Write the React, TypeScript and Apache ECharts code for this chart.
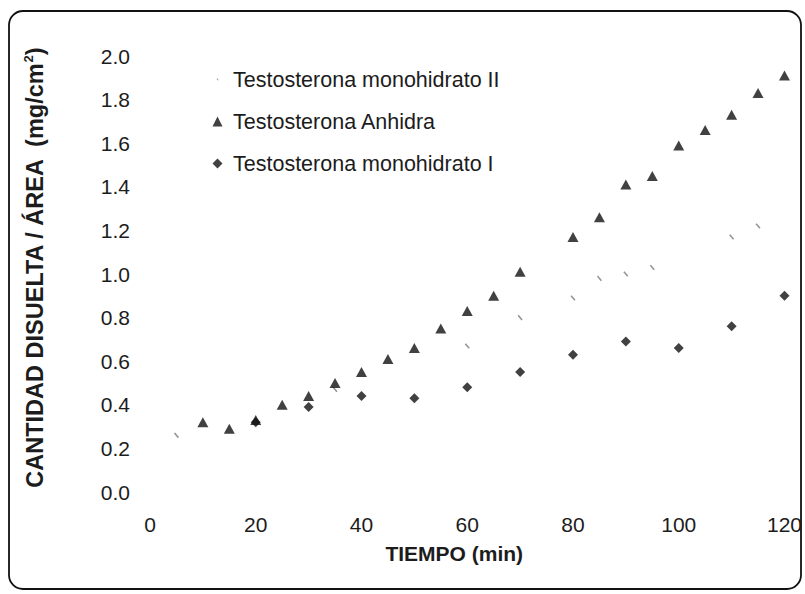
import React, { useEffect, useRef } from "react";
import * as echarts from "echarts";

// Testosterona monohidrato II (faint marks)
const mono2Time = [5, 35, 60, 70, 80, 85, 90, 95, 110, 115];
const mono2Value = [0.26, 0.47, 0.67, 0.8, 0.89, 0.98, 1.0, 1.03, 1.17, 1.22];

// Testosterona Anhidra (triangles)
const anhTime = [10, 15, 20, 25, 30, 35, 40, 45, 50, 55, 60, 65, 70, 80, 85, 90, 95, 100, 105, 110, 115, 120];
const anhValue = [0.32, 0.29, 0.33, 0.4, 0.44, 0.5, 0.55, 0.61, 0.66, 0.75, 0.83, 0.9, 1.01, 1.17, 1.26, 1.41, 1.45, 1.59, 1.66, 1.73, 1.83, 1.91];

// Testosterona monohidrato I (diamonds)
const mono1Time = [20, 30, 40, 50, 60, 70, 80, 90, 100, 110, 120];
const mono1Value = [0.32, 0.39, 0.44, 0.43, 0.48, 0.55, 0.63, 0.69, 0.66, 0.76, 0.9];

const seriesNames = [
  "Testosterona monohidrato II",
  "Testosterona Anhidra",
  "Testosterona monohidrato I",
];

const zip = (xs: number[], ys: number[]) => xs.map((x, i) => [x, ys[i]]);

const FONT = "'Liberation Sans', Arial, sans-serif";
const TEXT = "#1c1c1c";

export default function App() {
  const ref = useRef<HTMLDivElement>(null);

  useEffect(() => {
    document.body.style.margin = "0";
    if (!ref.current) return;
    const chart = echarts.init(ref.current, undefined, { renderer: "svg" });
    chart.setOption({
      animation: false,
      backgroundColor: "#ffffff",
      textStyle: { fontFamily: FONT },
      graphic: [
        {
          type: "rect",
          shape: { x: 9, y: 11, width: 792, height: 578, r: 14 },
          style: { fill: "none", stroke: "#111", lineWidth: 1.8 },
          silent: true,
        },
      ],
      grid: { left: 150, right: 19, top: 56, bottom: 102 },
      legend: {
        orient: "vertical",
        left: 207,
        top: 62,
        itemGap: 17,
        itemWidth: 16,
        itemHeight: 11,
        textStyle: { fontSize: 21.5, color: TEXT, fontFamily: FONT, lineHeight: 25 },
        data: [
          { name: seriesNames[0], icon: "path://M0,0 M16,11 M4.5,4.6 L5.4,4.2 L6.6,6.2 L5.7,6.6 Z" },
          { name: seriesNames[1], icon: "path://M0,0 M16,11 M0.5,10.5 L5.5,0.5 L10.5,10.5 Z" },
          { name: seriesNames[2], icon: "path://M0,0 M16,11 M5.5,0.5 L10.5,5.5 L5.5,10.5 L0.5,5.5 Z" },
        ],
      },
      xAxis: {
        type: "value",
        min: 0,
        max: 120,
        interval: 20,
        name: "TIEMPO (min)",
        nameLocation: "middle",
        nameGap: 51,
        nameTextStyle: {
          fontSize: 21,
          fontWeight: "bold",
          color: TEXT,
          fontFamily: FONT,
          padding: [0, 26, 0, 0],
        },
        axisLine: { show: false },
        axisTick: { show: false },
        splitLine: { show: false },
        axisLabel: { fontSize: 21, color: TEXT, margin: 22, fontFamily: FONT },
      },
      yAxis: {
        type: "value",
        min: 0,
        max: 2,
        interval: 0.2,
        name: "CANTIDAD DISUELTA / ÁREA  (mg/cm{sup|2})",
        nameLocation: "middle",
        nameGap: 103,
        nameTextStyle: {
          fontSize: 23.5,
          fontWeight: "bold",
          color: TEXT,
          fontFamily: FONT,
          padding: [0, 0, 0, 12],
          rich: {
            sup: {
              fontSize: 13,
              fontWeight: "bold",
              color: TEXT,
              fontFamily: FONT,
              verticalAlign: "top",
              padding: [0, 0, 12, 0],
            },
          },
        },
        axisLine: { show: false },
        axisTick: { show: false },
        splitLine: { show: false },
        axisLabel: {
          fontSize: 21,
          color: TEXT,
          margin: 20,
          fontFamily: FONT,
          formatter: (v: number) => v.toFixed(1),
        },
      },
      series: [
        {
          name: seriesNames[0],
          type: "scatter",
          data: zip(mono2Time, mono2Value),
          symbol: "rect",
          symbolSize: [6, 1.6],
          symbolRotate: -50,
          itemStyle: { color: "#7a7a7a" },
          z: 1,
        },
        {
          name: seriesNames[1],
          type: "scatter",
          data: zip(anhTime, anhValue),
          symbol: "triangle",
          symbolSize: [11, 10],
          itemStyle: { color: "#111" },
          z: 3,
        },
        {
          name: seriesNames[2],
          type: "scatter",
          data: zip(mono1Time, mono1Value),
          symbol: "diamond",
          symbolSize: [10, 10],
          itemStyle: { color: "#111" },
          z: 2,
        },
      ],
    });
    return () => chart.dispose();
  }, []);

  return <div ref={ref} style={{ width: 805, height: 594 }} />;
}
